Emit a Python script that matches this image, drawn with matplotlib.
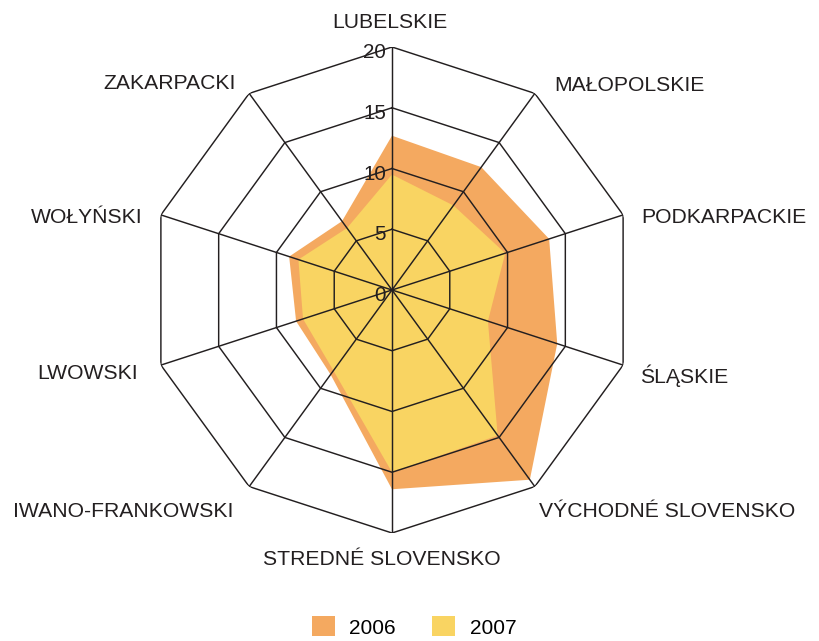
import numpy as np
import matplotlib

matplotlib.use("Agg")
import matplotlib.pyplot as plt
from matplotlib.patches import Patch

# Regions, clockwise from the top
REGIONS = ["LUBELSKIE", "MAŁOPOLSKIE", "PODKARPACKIE", "ŚLĄSKIE",
           "VÝCHODNÉ SLOVENSKO", "STREDNÉ SLOVENSKO", "IWANO-FRANKOWSKI",
           "LWOWSKI", "WOŁYŃSKI", "ZAKARPACKI"]
V2006 = [12.7, 12.5, 13.6, 14.3, 19.3, 16.4, 8.6, 8.3, 8.9, 7.0]
V2007 = [9.5, 8.6, 9.8, 8.3, 14.8, 15.0, 8.2, 7.7, 8.1, 6.3]
LEVELS = [0, 5, 10, 15, 20]
RMAX = 20

C_2006 = "#F4A960"
C_2007 = "#F9D462"
C_GRID = "#231F20"
C_TEXT = "#231F20"

# label anchor offsets from outer vertex (pixels), alignment
LABEL_POS = [
    ((-2, 19), "center"),
    ((19, 2), "left"),
    ((18, -8), "left"),
    ((17, -18), "left"),
    ((4, -30), "left"),
    ((-10, -32), "center"),
    ((-16, -30), "right"),
    ((-23, -14), "right"),
    ((-18, -8), "right"),
    ((-13, 4), "right"),
]

plt.rcParams["font.family"] = ["Liberation Sans", "DejaVu Sans"]

W, H = 820, 641
cx, cy, rad = 392, 290, 243
fig = plt.figure(figsize=(W / 100, H / 100), dpi=100)
ax = fig.add_axes([(cx - rad) / W, (H - cy - rad) / H, 2 * rad / W, 2 * rad / H],
                  projection="polar")
ax.set_theta_zero_location("N")
ax.set_theta_direction(-1)
ax.set_ylim(0, RMAX)
ax.set_axis_off()

n = len(REGIONS)
theta = np.arange(n) * 2 * np.pi / n
tc = np.append(theta, theta[0])

ax.fill(tc, np.append(V2006, V2006[0]), color=C_2006, lw=0, zorder=1)
ax.fill(tc, np.append(V2007, V2007[0]), color=C_2007, lw=0, zorder=2)

for lv in LEVELS[1:]:
    ax.plot(tc, [lv] * (n + 1), color=C_GRID, lw=1.05, zorder=3)
for t in theta:
    ax.plot([t, t], [0, RMAX], color=C_GRID, lw=1.05, zorder=3)

for lv in LEVELS:
    ax.annotate(str(lv), xy=(0, lv), xytext=(-6, -11), textcoords="offset pixels",
                ha="right", va="baseline", fontsize=14.8, color=C_TEXT, zorder=4)

for t, name, (off, ha) in zip(theta, REGIONS, LABEL_POS):
    ax.annotate(name, xy=(t, RMAX), xytext=off, textcoords="offset pixels",
                ha=ha, va="baseline", fontsize=15.2, color=C_TEXT,
                annotation_clip=False)

handles = [Patch(facecolor=C_2006, lw=0), Patch(facecolor=C_2007, lw=0)]
fig.legend(handles, ["2006", "2007"], loc="center",
           bbox_to_anchor=(414 / W, 1 - 627 / H), ncol=2, frameon=False,
           fontsize=15, handlelength=1.1, handleheight=1.1,
           handletextpad=0.7, columnspacing=1.75)

fig.savefig("out.png", dpi=100)
